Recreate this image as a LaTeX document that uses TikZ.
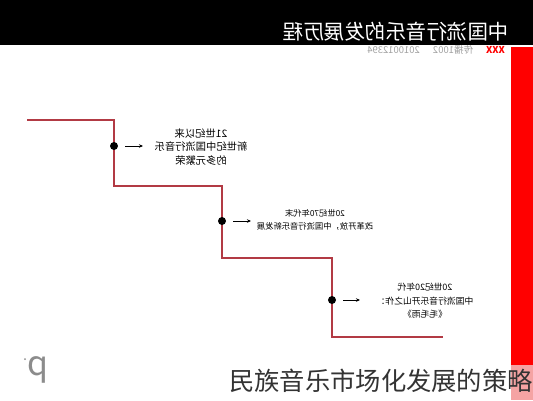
\documentclass[tikz,border=0pt]{standalone}
\usepackage{fontspec}
\newfontfamily\cjk{Noto Sans CJK SC}
\usetikzlibrary{positioning,arrows.meta}

\definecolor{stairred}{HTML}{B23A44}
\definecolor{barred}{HTML}{FF0000}
\definecolor{barpink}{HTML}{F5A3A3}
\definecolor{subgray}{HTML}{A0A0A0}

\tikzset{
	stair/.style={stairred, line width=1.6pt},
	stepdot/.style={circle, fill=black, inner sep=0pt, minimum size=8pt},
	tip/.style={-{Stealth[length=4pt,width=3.5pt]}, line width=0.8pt, shorten <=7pt},
	mirror/.style={xscale=-1, align=center, text=black, font=\cjk\fontsize{8.8}{13.5}\selectfont}
}

\begin{document}
\begin{tikzpicture}[x=1pt,y=-1pt]
	\useasboundingbox (0,0) rectangle (533,400);
	
	% title bar
	\fill[black] (0,0) rectangle (533,45);
	\node[mirror, text=white, font=\cjk\fontsize{20.5}{22}\selectfont] (title) at (396,32) {中国流行音乐的发展历程};
	\node[mirror, text=subgray, font=\cjk\fontsize{9.5}{10}\selectfont] (sub) at (436,50) {\textcolor{barred}{\bfseries XXX}\hspace{13pt}传播1002\hspace{13pt}2010012394};
	
	% side bar
	\fill[barred] (511,47) rectangle (533,365);
	\fill[barpink] (511,365) rectangle (533,400);
	
	% staircase
	\coordinate (s0) at (27,120);
	\coordinate (s1) at (114,120);
	\coordinate (s2) at (114,186);
	\coordinate (s3) at (222,186);
	\coordinate (s4) at (222,258);
	\coordinate (s5) at (332,258);
	\coordinate (s6) at (332,337);
	\coordinate (s7) at (443,337);
	\draw[stair] (s0) -- (s1) -- (s2) -- (s3) -- (s4) -- (s5) -- (s6) -- (s7);
	
	% stages
	\node[stepdot] (d1) at (114,146) {};
	\node[stepdot] (d2) at (222,221) {};
	\node[stepdot] (d3) at (332,300) {};
	\coordinate (a1) at (143,146);
	\coordinate (a2) at (251,221);
	\coordinate (a3) at (360,300);
	\draw[tip] (d1) -- (a1);
	\draw[tip] (d2) -- (a2);
	\draw[tip] (d3) -- (a3);
	
	\node[mirror, font=\cjk\fontsize{10.3}{13.5}\selectfont] (t1) at (201,147) {21世纪以来\\新世纪中国流行音乐\\的多元繁荣};
	\node[mirror, font=\cjk\fontsize{8.3}{13.5}\selectfont] (t2) at (315,220) {20世纪70年代末\\改革开放，中国流行音乐新发展};
	\node[mirror] (t3) at (425,301) {20世纪20年代\\中国流行音乐开山之作：\\《毛毛雨》};
	
	% footer
	\node[xscale=-1, text=black!45, font=\cjk\fontsize{34}{34}\selectfont] (pg) at (38,370) {p};
	\fill[black!45] (25,359) circle (1pt);
	\node[anchor=east, inner sep=0pt, text=black!80, font=\cjk\fontsize{25.3}{26}\selectfont] (caption) at (533,381) {民族音乐市场化发展的策略};
\end{tikzpicture}
\end{document}
